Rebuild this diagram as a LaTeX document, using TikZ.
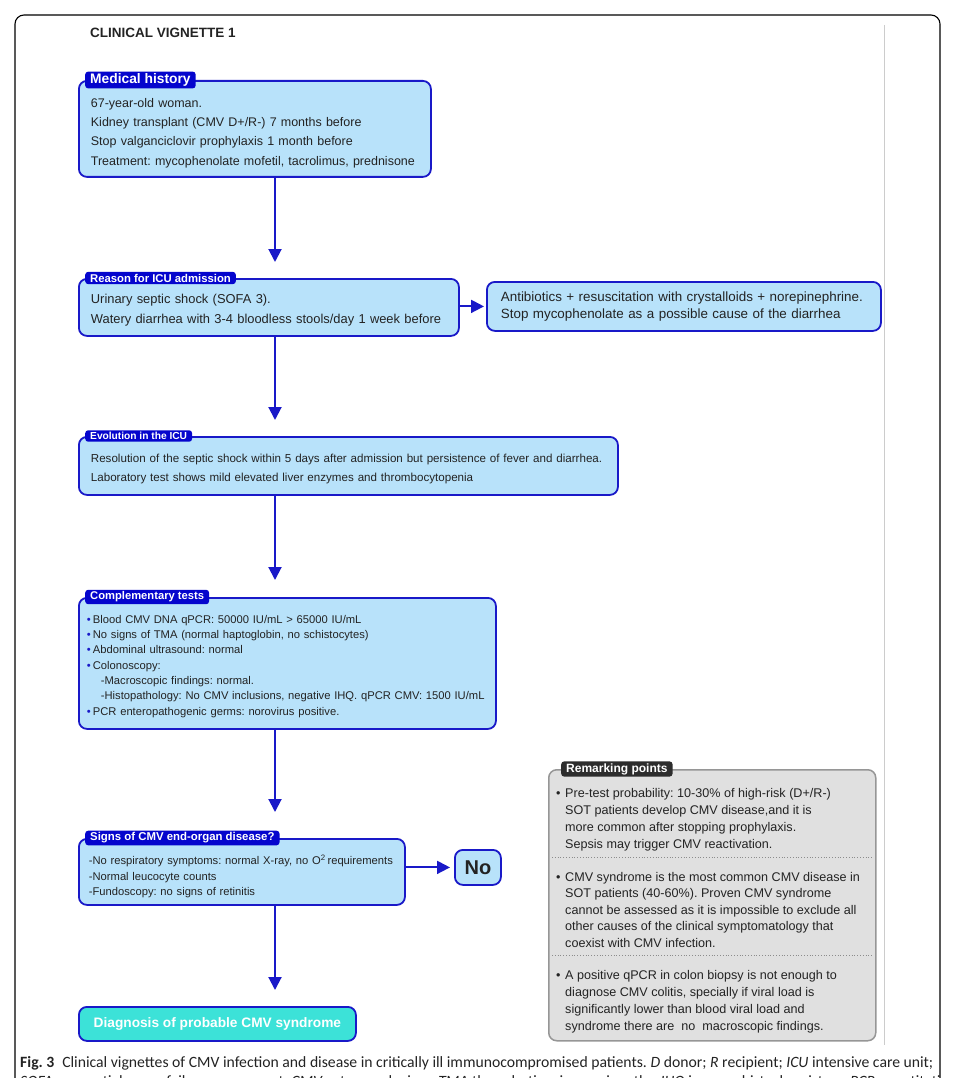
\documentclass[tikz,border=0pt]{standalone}
\usepackage{fontspec}
\setmainfont{Liberation Sans}
\newfontfamily\capfont{Carlito}
\usepackage{xcolor}
\usepackage{tikz}
\usetikzlibrary{arrows.meta}

\definecolor{boxblue}{RGB}{184,226,250}
\definecolor{lineblue}{RGB}{25,25,200}
\definecolor{tabblue}{RGB}{5,5,205}
\definecolor{diagcyan}{RGB}{60,226,216}
\definecolor{remgrey}{RGB}{224,224,224}
\definecolor{remline}{RGB}{150,150,150}
\definecolor{remtab}{RGB}{45,45,45}
\definecolor{txtgrey}{RGB}{35,35,35}

\newcommand{\tb}{\makebox[6pt][l]{\textcolor{lineblue}{\textbullet}}}
\newcommand{\rb}{\makebox[9pt][l]{\textbullet}}
\newcommand{\ri}{\hspace*{9pt}}
\newcommand{\lift}[1]{\rule{0pt}{#1}}

\tikzset{
  box/.style={draw=lineblue, line width=1.8pt, fill=boxblue, rounded corners=8pt,
    anchor=north west, align=left, inner xsep=12pt, text=txtgrey},
  tab/.style={fill=tabblue, text=white, rounded corners=3pt, anchor=west,
    inner xsep=5pt, inner ysep=2pt, font=\bfseries\fontsize{11.3}{12}\selectfont},
  flow/.style={draw=lineblue, line width=2pt, -{Triangle[length=13pt,width=13pt]}},
  remtext/.style={anchor=north west, align=left, inner sep=0pt, text=txtgrey,
    font=\fontsize{12.6}{17}\selectfont}
}

\begin{document}
\frenchspacing
\begin{tikzpicture}[x=1pt,y=-1pt]
\useasboundingbox (0,0) rectangle (957,1078);

%draw frame
\draw[line width=1.1pt, rounded corners=9pt] (15,1110) -- (15,15) -- (940,15) -- (940,1110);
\draw[black!20, line width=1pt] (884,25) -- (884,1045);
\node[anchor=west, inner sep=0pt, text=txtgrey, font=\bfseries\fontsize{13.5}{14}\selectfont]
  (title) at (90,33) {CLINICAL VIGNETTE 1};
\coordinate (spine) at (275,0);

%draw boxes
\node[box, text width=328pt, minimum height=96pt, font=\fontsize{12.5}{19.3}\selectfont]
  (hist) at (78,80) {\lift{17pt}67-year-old woman.\\
  Kidney transplant (CMV D+/R-) 7 months before\\
  Stop valganciclovir prophylaxis 1 month before\\
  Treatment: mycophenolate mofetil, tacrolimus, prednisone};
\node[tab, font=\bfseries\fontsize{13.8}{14}\selectfont] (hist tab)
  at ([xshift=7pt]hist.north west) {Medical history};

\node[box, text width=356pt, minimum height=57pt, font=\fontsize{12.9}{20}\selectfont]
  (reason) at (78,278) {\lift{14pt}Urinary septic shock (SOFA 3).\\
  Watery diarrhea with 3-4 bloodless stools/day 1 week before};
\node[tab] (reason tab) at ([xshift=7pt]reason.north west) {Reason for ICU admission};

\node[box, inner xsep=14pt, text width=366pt, minimum height=49pt, font=\fontsize{13.4}{17}\selectfont]
  (treat) at (486,281) {Antibiotics + resuscitation with crystalloids + norepinephrine.\\
  Stop mycophenolate as a possible cause of the diarrhea};

\node[box, text width=515pt, minimum height=58pt, font=\fontsize{11.6}{19}\selectfont]
  (evol) at (78,436) {\lift{14pt}Resolution of the septic shock within 5 days after admission but persistence of fever and diarrhea.\\
  Laboratory test shows mild elevated liver enzymes and thrombocytopenia};
\node[tab, font=\bfseries\fontsize{10.2}{12}\selectfont] (evol tab)
  at ([xshift=7pt]evol.north west) {Evolution in the ICU};

\node[box, inner xsep=8pt, text width=401pt, minimum height=131pt, font=\fontsize{11.2}{15.3}\selectfont]
  (tests) at (78,597) {\lift{14pt}\tb Blood CMV DNA qPCR: 50000 IU/mL > 65000 IU/mL\\
  \tb No signs of TMA (normal haptoglobin, no schistocytes)\\
  \tb Abdominal ultrasound: normal\\
  \tb Colonoscopy:\\
  \hspace*{14pt}-Macroscopic findings: normal.\\
  \hspace*{14pt}-Histopathology: No CMV inclusions, negative IHQ. qPCR CMV: 1500 IU/mL\\
  \tb PCR enteropathogenic germs: norovirus positive.};
\node[tab, font=\bfseries\fontsize{11.2}{12}\selectfont] (tests tab)
  at ([xshift=7pt]tests.north west) {Complementary tests};

\node[box, inner xsep=10pt, text width=306pt, minimum height=66pt, font=\fontsize{11.2}{15.5}\selectfont]
  (signs) at (78,838) {\lift{19pt}-No respiratory symptoms: normal X-ray, no O\textsuperscript{2}\,requirements\\
  -Normal leucocyte counts\\
  -Fundoscopy: no signs of retinitis};
\node[tab, font=\bfseries\fontsize{11.4}{12}\selectfont] (signs tab)
  at ([xshift=7pt]signs.north west) {Signs of CMV end-organ disease?};

\node[box, align=center, inner sep=0pt, minimum width=46pt, minimum height=35pt,
  font=\bfseries\fontsize{20}{22}\selectfont] (no) at (454,849) {No};

\node[box, fill=diagcyan, align=center, inner sep=0pt, minimum width=277pt, minimum height=34pt,
  text=white, font=\bfseries\fontsize{13.7}{14}\selectfont] (diag) at (78,1006)
  {Diagnosis of probable CMV syndrome};

%draw remarking points
\node[draw=remline, line width=1.5pt, fill=remgrey, rounded corners=8pt, anchor=north west,
  minimum width=327pt, minimum height=271pt] (remark) at (548,769) {};
\node[tab, fill=remtab, font=\bfseries\fontsize{12}{12}\selectfont] (remark tab)
  at ([xshift=13pt]remark.north west) {Remarking points};
\draw[dotted, black!45, line width=0.8pt] (552,857) -- (872,857);
\draw[dotted, black!45, line width=0.8pt] (552,955) -- (872,955);
\node[remtext] (rem one) at (556,788) {\rb Pre-test probability: 10-30\% of high-risk (D+/R-)\\
  \ri SOT patients develop CMV disease,and it is\\
  \ri more common after stopping prophylaxis.\\
  \ri Sepsis may trigger CMV reactivation.};
\node[remtext, font=\fontsize{12.6}{16.5}\selectfont] (rem two) at (556,872)
  {\rb CMV syndrome is the most common CMV disease in\\
  \ri SOT patients (40-60\%). Proven CMV syndrome\\
  \ri cannot be assessed as it is impossible to exclude all\\
  \ri other causes of the clinical symptomatology that\\
  \ri coexist with CMV infection.};
\node[remtext] (rem three) at (556,970) {\rb A positive qPCR in colon biopsy is not enough to\\
  \ri diagnose CMV colitis, specially if viral load is\\
  \ri significantly lower than blood viral load and\\
  \ri syndrome there are\ \ no\ \ macroscopic findings.};

%draw arrows
\draw[flow, shorten >=16pt] (hist.south -| spine) -- (reason.north -| spine);
\draw[flow, shorten >=16pt] (reason.south -| spine) -- (evol.north -| spine);
\draw[flow, shorten >=17pt] (evol.south -| spine) -- (tests.north -| spine);
\draw[flow, shorten >=26pt] (tests.south -| spine) -- (signs.north -| spine);
\draw[flow, shorten >=16pt] (signs.south -| spine) -- (diag.north -| spine);
\draw[flow, shorten >=2pt] (reason.east |- treat.west) -- (treat.west);
\draw[flow, shorten >=4pt] (signs.east |- no.west) -- (no.west);

%draw caption
\node[anchor=base west, inner sep=0pt, text=txtgrey, font=\capfont\fontsize{15.7}{17}\selectfont]
  (cap one) at (20,1067) {\textbf{Fig. 3}\hspace{0.5em}Clinical vignettes of CMV infection and disease in critically ill immunocompromised patients. \textit{D} donor; \textit{R} recipient; \textit{ICU} intensive care unit;};
\node[anchor=base west, inner sep=0pt, text=txtgrey, font=\capfont\fontsize{15.7}{17}\selectfont]
  (cap two) at (20,1086) {\textit{SOFA} sequential organ failure assessment, \textit{CMV} cytomegalovirus, \textit{TMA} thrombotic microangiopathy, \textit{IHQ} immunohistochemistry, \textit{qPCR} quantitative};
\end{tikzpicture}
\end{document}
